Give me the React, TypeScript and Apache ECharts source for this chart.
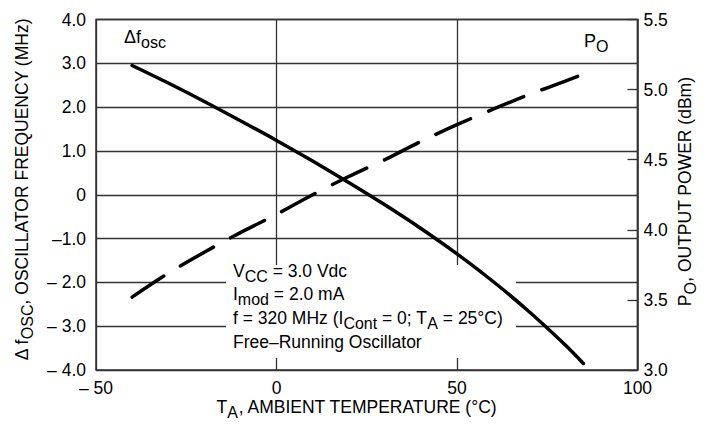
import React, { useEffect, useRef } from 'react';
import * as echarts from 'echarts';

// ---- data ----
const temperatures = [-40, -30, -20, -10, 0, 10, 20, 30, 40, 50, 60, 70, 80, 85];
const deltaFosc = [2.95, 2.55, 2.13, 1.69, 1.24, 0.77, 0.28, -0.23, -0.77, -1.35, -1.98, -2.67, -3.43, -3.85];
const outputPower = [3.52, 3.69, 3.84, 3.98, 4.11, 4.25, 4.38, 4.5, 4.63, 4.75, 4.86, 4.965, 5.06, 5.11];

const xTickLabels: Record<string, string> = { '-50': '– 50', '0': '0', '50': '50', '100': '100' };
const leftTickLabels: Record<string, string> = {
  '4': '4.0', '3': '3.0', '2': '2.0', '1': '1.0', '0': '0',
  '-1': '–1.0', '-2': '– 2.0', '-3': '– 3.0', '-4': '– 4.0',
};
const rightTickLabels: Record<string, string> = {
  '3': '3.0', '3.5': '3.5', '4': '4.0', '4.5': '4.5', '5': '5.0', '5.5': '5.5',
};

const annotationLines = [
  '{n|V}{s|CC}{n| = 3.0 Vdc}',
  '{n|I}{s|mod}{n| = 2.0 mA}',
  '{n|f = 320 MHz (I}{s|Cont}{n| = 0; T}{s|A}{n| = 25°C)}',
  '{n|Free–Running Oscillator}',
];
const leftTitle = '{n|Δ f}{s|OSC}{n|, OSCILLATOR FREQUENCY (MHz)}';
const rightTitle = '{n|P}{s|O}{n|, OUTPUT POWER (dBm)}';
const xTitle = '{n|T}{s|A}{n|, AMBIENT TEMPERATURE (°C)}';
const dfLabel = '{n|Δf}{s|osc}';
const poLabel = '{n|P}{s|O}';

const FONT = "'Liberation Sans', Arial, Helvetica, sans-serif";

const richStyles = (size = 17.5, sub = 16) => ({
  n: { fontSize: size, fontFamily: FONT, color: '#000', lineHeight: 20, verticalAlign: 'bottom', padding: [0, 0, 4.5, 0] },
  s: { fontSize: sub, fontFamily: FONT, color: '#000', lineHeight: 16, verticalAlign: 'bottom' },
});

export default function App() {
  const ref = useRef<HTMLDivElement>(null);
  useEffect(() => {
    if (!ref.current) return;
    const chart = echarts.init(ref.current, undefined, { renderer: 'svg' });
    const gridColor = '#333';
    const option: any = {
      animation: false,
      backgroundColor: '#fff',
      grid: {
        left: 96, right: 73.5, top: 19.5, bottom: 75,
        show: true, borderColor: gridColor, borderWidth: 1.5, backgroundColor: 'transparent',
      },
      xAxis: {
        type: 'value', min: -50, max: 100, interval: 50,
        axisLine: { show: false }, axisTick: { show: false },
        splitLine: { show: true, lineStyle: { color: gridColor, width: 1.3 } },
        axisLabel: {
          margin: 9, fontSize: 17.5, fontFamily: FONT, color: '#000',
          formatter: (v: number) => xTickLabels[String(v)] ?? String(v),
        },
      },
      yAxis: [
        {
          type: 'value', min: -4, max: 4, interval: 1, position: 'left',
          axisLine: { show: false }, axisTick: { show: false },
          splitLine: { show: true, lineStyle: { color: gridColor, width: 1.3 } },
          axisLabel: {
            margin: 10, fontSize: 17.5, fontFamily: FONT, color: '#000',
            formatter: (v: number) => leftTickLabels[String(v)] ?? String(v),
          },
        },
        {
          type: 'value', min: 3, max: 5.5, interval: 0.5, position: 'right',
          axisLine: { show: true, lineStyle: { color: gridColor, width: 1.5 } },
          axisTick: { show: true, inside: true, length: 10, lineStyle: { color: gridColor, width: 1.3 } },
          splitLine: { show: false },
          axisLabel: {
            margin: 6, fontSize: 17.5, fontFamily: FONT, color: '#000',
            formatter: (v: number) => rightTickLabels[String(v)] ?? v.toFixed(1),
          },
        },
      ],
      series: [
        {
          type: 'line', name: 'dfosc', yAxisIndex: 0, smooth: 0.3, symbol: 'none',
          data: temperatures.map((t, i) => [t, deltaFosc[i]]),
          lineStyle: { color: '#000', width: 3.5, cap: 'round' },
          z: 5,
        },
        {
          type: 'line', name: 'po', yAxisIndex: 1, smooth: 0.3, symbol: 'none',
          data: temperatures.map((t, i) => [t, outputPower[i]]),
          lineStyle: { color: '#000', width: 3.5, type: [38, 19.5], cap: 'round' },
          z: 5,
        },
      ],
      graphic: [
        { type: 'rect', z: 1, shape: { x: 226, y: 265, width: 290, height: 93 }, style: { fill: '#fff' } },
        ...annotationLines.map((txt, i) => ({
          type: 'text', z: 10, x: 233, y: [264.5, 287.8, 311.2, 335.5][i],
          style: { text: txt, rich: richStyles(), align: 'left', verticalAlign: 'top' },
        })),
        {
          type: 'text', z: 10, x: 124, y: 30,
          style: { text: dfLabel, rich: richStyles(18, 16), align: 'left', verticalAlign: 'top' },
        },
        {
          type: 'text', z: 10, x: 584, y: 34,
          style: { text: poLabel, rich: richStyles(18, 16), align: 'left', verticalAlign: 'top' },
        },
        {
          type: 'text', z: 10, x: 25.8, y: 189.5, rotation: Math.PI / 2,
          style: { text: leftTitle, rich: richStyles(), align: 'center', verticalAlign: 'middle' },
        },
        {
          type: 'text', z: 10, x: 688.8, y: 191.5, rotation: Math.PI / 2,
          style: { text: rightTitle, rich: richStyles(), align: 'center', verticalAlign: 'middle' },
        },
        {
          type: 'text', z: 10, x: 357, y: 400,
          style: { text: xTitle, rich: richStyles(), align: 'center', verticalAlign: 'top' },
        },
      ],
    };
    chart.setOption(option);
    return () => chart.dispose();
  }, []);
  return (
    <div
      ref={ref}
      style={{ position: 'fixed', left: 0, top: 0, width: 711, height: 445, background: '#fff' }}
    />
  );
}
